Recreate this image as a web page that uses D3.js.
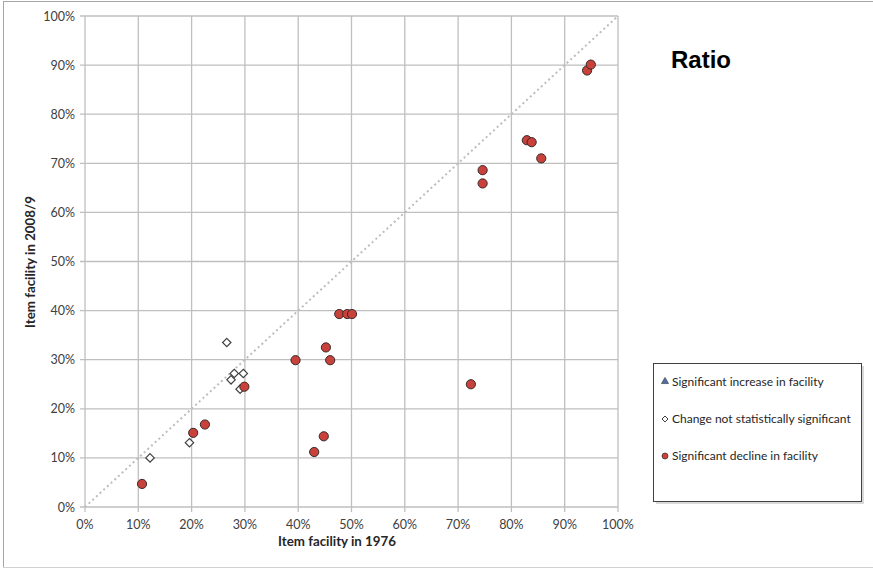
<!DOCTYPE html>
<html>
<head>
<meta charset="utf-8">
<script src="https://cdn.jsdelivr.net/npm/d3@7"></script>
<style>
  body { margin: 0; background: #fff; }
  svg { display: block; }
  text { font-family: Lato, "Open Sans", sans-serif; }
</style>
</head>
<body>
<script>
// item facility 1976 (x) vs 2008/9 (y), percent
var declineX = [10.7, 20.3, 22.5, 29.9, 39.5, 45.2, 46.0, 43.0, 44.8, 47.7, 49.2, 50.1, 72.4, 74.6, 74.6, 82.9, 83.8, 85.6, 94.2, 94.9];
var declineY = [4.7, 15.1, 16.8, 24.5, 29.9, 32.5, 29.9, 11.2, 14.4, 39.3, 39.3, 39.3, 25.0, 68.6, 65.9, 74.7, 74.3, 71.0, 88.9, 90.1];

var notSigX = [12.2, 19.6, 26.6, 28.0, 27.4, 29.7, 29.1];
var notSigY = [10.0, 13.1, 33.5, 27.2, 25.9, 27.2, 24.0];

var increaseX = [];
var increaseY = [];

var ticks = [0, 10, 20, 30, 40, 50, 60, 70, 80, 90, 100];
var legendLabels = ["Significant increase in facility", "Change not statistically significant", "Significant decline in facility"];

var width = 873, height = 569;

var svg = d3.select("body").append("svg")
    .attr("width", width)
    .attr("height", height);

// outer frame
svg.append("line").attr("x1", 3).attr("x2", width).attr("y1", 1.5).attr("y2", 1.5)
    .style("stroke", "#a6a6a6");
svg.append("line").attr("x1", 3.5).attr("x2", 3.5).attr("y1", 1).attr("y2", 568)
    .style("stroke", "#a6a6a6");
svg.append("line").attr("x1", 3).attr("x2", width).attr("y1", 567.5).attr("y2", 567.5)
    .style("stroke", "#d0d0d0");

var x = d3.scaleLinear().domain([0, 100]).range([85, 618]);
var y = d3.scaleLinear().domain([0, 100]).range([507, 16]);

var grid = svg.append("g");

grid.selectAll(".vg")
    .data(ticks)
    .enter()
    .append("line")
    .attr("x1", function(d) { return x(d); })
    .attr("x2", function(d) { return x(d); })
    .attr("y1", y(100))
    .attr("y2", y(0) + 5)
    .style("stroke", "#bfbfbf")
    .style("stroke-width", 1.3);

grid.selectAll(".hg")
    .data(ticks)
    .enter()
    .append("line")
    .attr("x1", x(0) - 5)
    .attr("x2", x(100))
    .attr("y1", function(d) { return y(d); })
    .attr("y2", function(d) { return y(d); })
    .style("stroke", "#bfbfbf")
    .style("stroke-width", 1.3);

// tick labels
svg.append("g").selectAll("text")
    .data(ticks)
    .enter()
    .append("text")
    .attr("x", function(d) { return x(d); })
    .attr("y", y(0) + 22)
    .attr("text-anchor", "middle")
    .style("font-size", "12.5px")
    .style("fill", "#404040")
    .text(function(d) { return d + "%"; });

svg.append("g").selectAll("text")
    .data(ticks)
    .enter()
    .append("text")
    .attr("x", x(0) - 10)
    .attr("y", function(d) { return y(d) + 4.5; })
    .attr("text-anchor", "end")
    .style("font-size", "12.5px")
    .style("fill", "#404040")
    .text(function(d) { return d + "%"; });

// axis titles
svg.append("text")
    .attr("x", 337)
    .attr("y", 546)
    .attr("text-anchor", "middle")
    .style("font-size", "13.3px")
    .style("font-weight", "bold")
    .style("fill", "#262626")
    .text("Item facility in 1976");

svg.append("text")
    .attr("transform", "translate(35," + 262 + ") rotate(-90)")
    .attr("text-anchor", "middle")
    .style("font-size", "13.3px")
    .style("font-weight", "bold")
    .style("fill", "#262626")
    .text("Item facility in 2008/9");

// diagonal
svg.append("line")
    .attr("x1", x(0)).attr("y1", y(0))
    .attr("x2", x(100)).attr("y2", y(100))
    .style("stroke", "#bdbdbd")
    .style("stroke-width", 2)
    .style("stroke-dasharray", "2,3");

// title
svg.append("text")
    .attr("x", 671)
    .attr("y", 68)
    .style("font-family", "'Liberation Sans', Arial, sans-serif")
    .style("font-size", "24px")
    .style("font-weight", "bold")
    .style("fill", "#000")
    .text("Ratio");

// points
function diamondPath(r) {
    return "M0," + (-r) + "L" + r + ",0L0," + r + "L" + (-r) + ",0Z";
}
var triangle = d3.symbol().type(d3.symbolTriangle).size(30);

svg.append("g").selectAll("path")
    .data(d3.range(increaseX.length))
    .enter()
    .append("path")
    .attr("d", triangle)
    .attr("transform", function(i) { return "translate(" + x(increaseX[i]) + "," + y(increaseY[i]) + ")"; })
    .style("fill", "#4f6fa8")
    .style("stroke", "#333");

svg.append("g").selectAll("path")
    .data(d3.range(notSigX.length))
    .enter()
    .append("path")
    .attr("d", diamondPath(4.2))
    .attr("transform", function(i) { return "translate(" + x(notSigX[i]) + "," + y(notSigY[i]) + ")"; })
    .style("fill", "#fff")
    .style("stroke", "#404040")
    .style("stroke-width", 1.2);

svg.append("g").selectAll("circle")
    .data(d3.range(declineX.length))
    .enter()
    .append("circle")
    .attr("cx", function(i) { return x(declineX[i]); })
    .attr("cy", function(i) { return y(declineY[i]); })
    .attr("r", 4.6)
    .style("fill", "#c8413b")
    .style("stroke", "#3a2a2a")
    .style("stroke-width", 1);

// legend
var lg = svg.append("g");
lg.append("rect")
    .attr("x", 656).attr("y", 366)
    .attr("width", 208).attr("height", 138)
    .style("fill", "#d9d9d9");
lg.append("rect")
    .attr("x", 653.5).attr("y", 363.5)
    .attr("width", 208).attr("height", 138)
    .style("fill", "#fff")
    .style("stroke", "#404040")
    .style("stroke-width", 1);

var legendY = [382, 419, 456];

lg.append("path")
    .attr("d", d3.symbol().type(d3.symbolTriangle).size(22))
    .attr("transform", "translate(665," + (legendY[0] - 0.5) + ")")
    .style("fill", "#4f6fa8")
    .style("stroke", "#333")
    .style("stroke-width", 0.6);
lg.append("path")
    .attr("d", diamondPath(3))
    .attr("transform", "translate(665," + legendY[1] + ")")
    .style("fill", "#fff")
    .style("stroke", "#404040");
lg.append("circle")
    .attr("cx", 665).attr("cy", legendY[2]).attr("r", 3)
    .style("fill", "#c8413b")
    .style("stroke", "#3a2a2a")
    .style("stroke-width", 0.7);

lg.selectAll(".lt")
    .data(legendLabels)
    .enter()
    .append("text")
    .attr("x", 672)
    .attr("y", function(d, i) { return legendY[i] + 4; })
    .style("font-size", "12px")
    .style("fill", "#262626")
    .text(function(d) { return d; });
</script>
</body>
</html>
